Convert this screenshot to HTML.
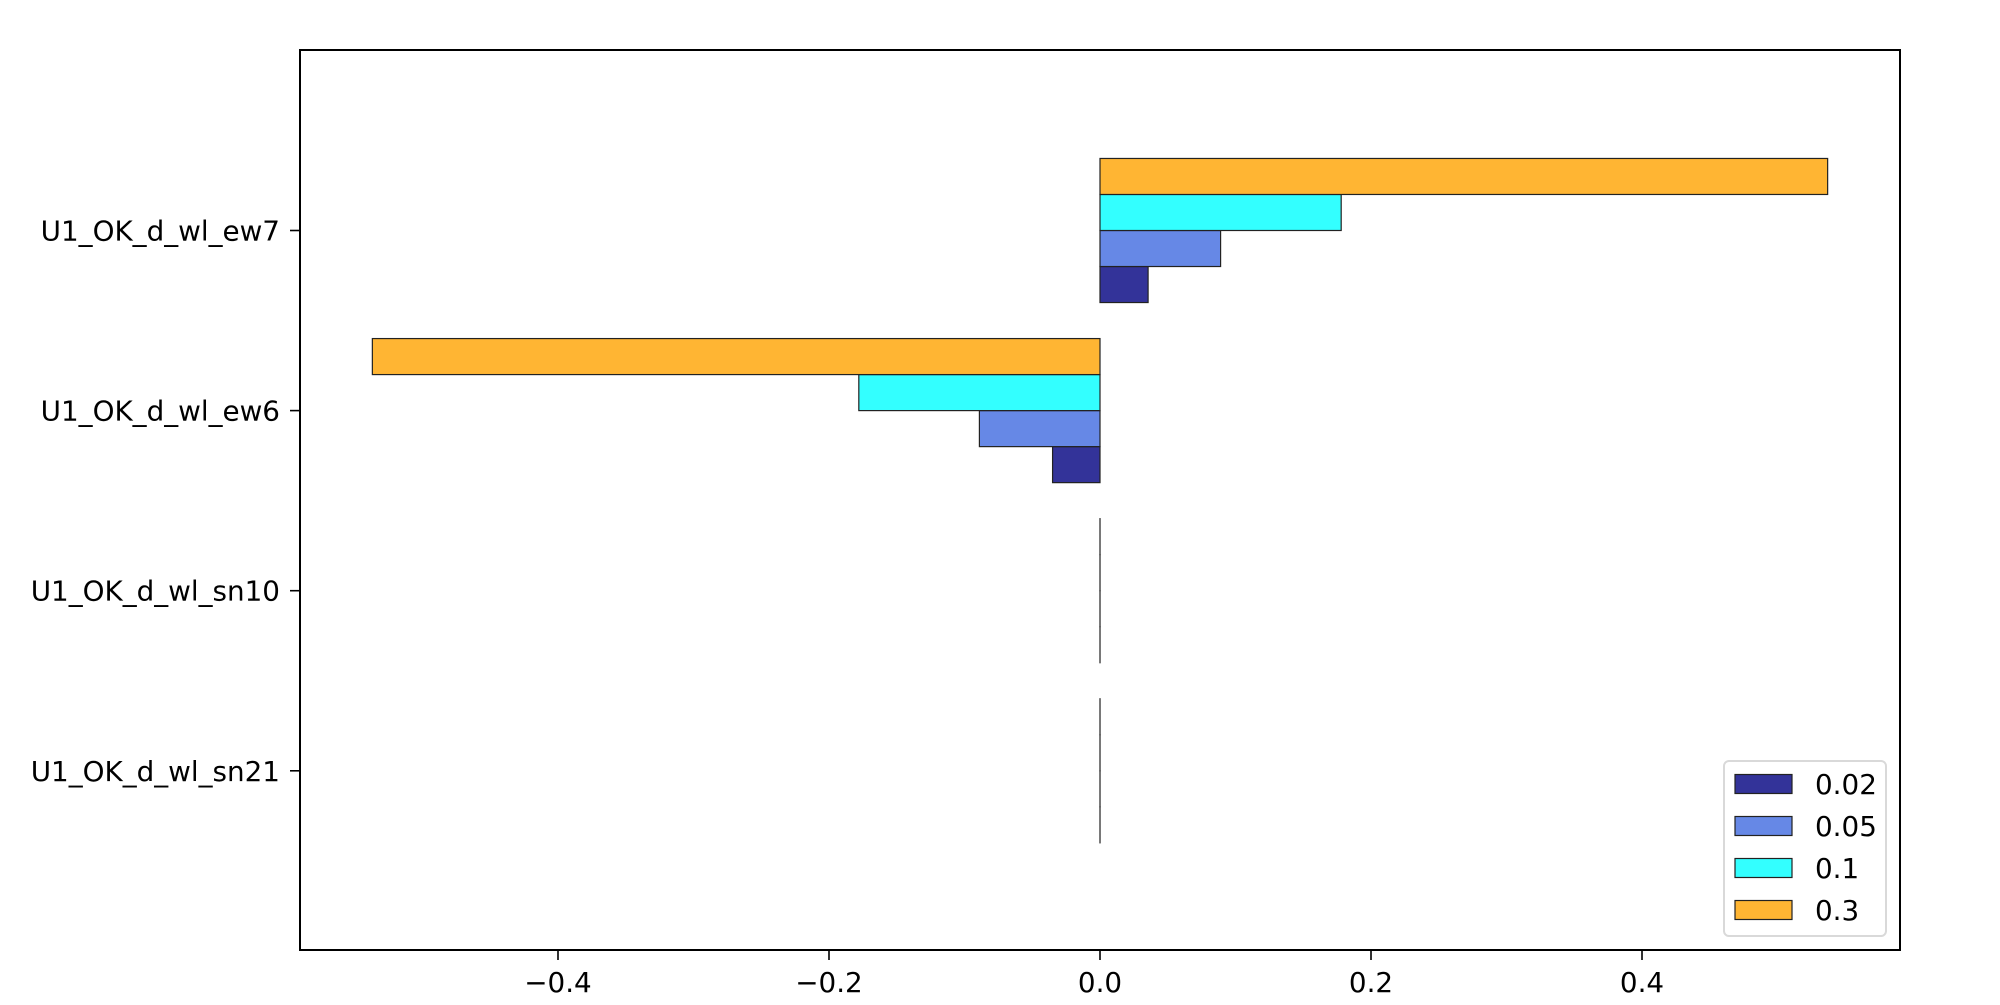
<!DOCTYPE html>
<html><head><meta charset="utf-8"><style>
body{margin:0;background:#fff}
svg text{font-family:"DejaVu Sans","Liberation Sans",sans-serif;font-size:27.8px;fill:#000}
</style></head><body>
<svg width="2000" height="1000" viewBox="0 0 2000 1000" xmlns="http://www.w3.org/2000/svg">
<g id="plot"></g>
</svg>
<script>
const categories = ["U1_OK_d_wl_ew7","U1_OK_d_wl_ew6","U1_OK_d_wl_sn10","U1_OK_d_wl_sn21"];
const seriesNames = ["0.02","0.05","0.1","0.3"];
const seriesColors = ["#333399","#6688e6","#33ffff","#ffb533"];
const s002 = [0.0355, -0.035, 0, 0];
const s005 = [0.089, -0.089, 0, 0];
const s01 = [0.178, -0.178, 0, 0];
const s03 = [0.537, -0.537, 0, 0];
const xTicks = [-0.4,-0.2,0.0,0.2,0.4];
const xTickLabels = ["\u22120.4","\u22120.2","0.0","0.2","0.4"];

const series = [s002,s005,s01,s03];
const L=300,R=1900,T=50,B=950;
const xMin=-0.5904,xMax=0.5904;
const xs=v=>L+(v-xMin)/(xMax-xMin)*(R-L);
const SP=180.1;
const ys=i=>230.5+SP*i;
const barH=0.2*SP;
const NS="http://www.w3.org/2000/svg";
const g=document.getElementById('plot');
function mk(tag,attrs,parent){const e=document.createElementNS(NS,tag);for(const k in attrs)e.setAttribute(k,attrs[k]);(parent||g).appendChild(e);return e;}

categories.forEach((c,ci)=>{
  series.forEach((s,si)=>{
    const v=s[ci];
    const x0=Math.min(xs(0),xs(v)), w=Math.abs(xs(v)-xs(0));
    const yc=ys(ci)+(1.5-si)*barH;
    const r=mk('rect',{x:x0,y:yc-barH/2,width:Math.max(w,0.01),height:barH,fill:seriesColors[si],stroke:'#222','stroke-width':1.2});
    
    
  });
});

const fr=mk('rect',{x:L,y:T,width:R-L,height:B-T,fill:'none',stroke:'#000','stroke-width':2});



xTicks.forEach((t,i)=>{
  const x=xs(t);
  const tk=mk('line',{x1:x,x2:x,y1:B,y2:B+10,stroke:'#000','stroke-width':1.6});
  
  
  const tx=mk('text',{x:x,y:992,'text-anchor':'middle'});
  tx.textContent=xTickLabels[i];
  
  
});
categories.forEach((c,ci)=>{
  const y=ys(ci);
  const tk=mk('line',{x1:L-10,x2:L,y1:y,y2:y,stroke:'#000','stroke-width':1.6});
  
  
  const tx=mk('text',{x:280,y:y+10,'text-anchor':'end'});
  tx.textContent=c;
  
  
});

const lg=mk('g',{});


mk('rect',{x:1724,y:761,width:162,height:175,rx:5,fill:'#fff',stroke:'#d9d9d9','stroke-width':2},lg);
seriesNames.forEach((n,si)=>{
  const yc=784+42*si;
  const p=mk('rect',{x:1735,y:yc-9.5,width:57,height:19,fill:seriesColors[si],stroke:'#222','stroke-width':1.2},lg);
  
  
  const t=mk('text',{x:1815,y:yc+10},lg);
  t.textContent=n;
  
  
});
</script>
</body></html>
